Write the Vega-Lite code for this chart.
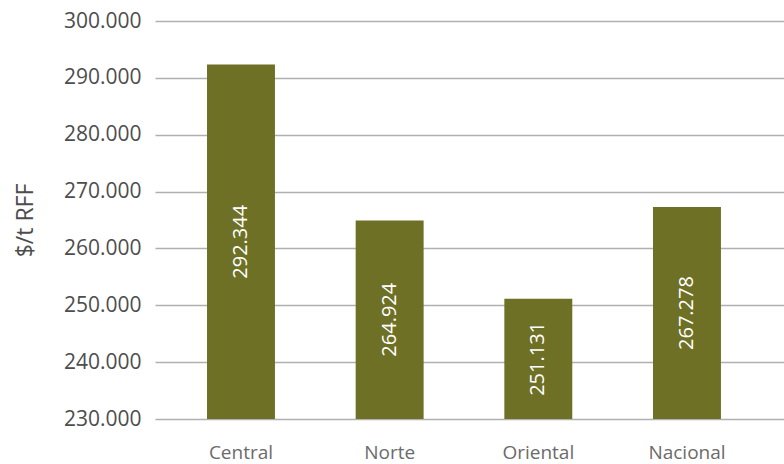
{
  "$schema": "https://vega.github.io/schema/vega-lite/v6.json",
  "width": 629,
  "height": 398,
  "autosize": "none",
  "padding": {"left": 155, "top": 21, "right": 0, "bottom": 45},
  "config": {
    "locale": {"number": {"decimal": ",", "thousands": ".", "grouping": [3], "currency": ["$", ""]}},
    "view": {"stroke": null},
    "font": "Open Sans"
  },
  "data": {
    "values": [
      {"region": "Central", "value": 292344},
      {"region": "Norte", "value": 264924},
      {"region": "Oriental", "value": 251131},
      {"region": "Nacional", "value": 267278}
    ]
  },
  "transform": [{"calculate": "(datum.value + 230000) / 2", "as": "mid"}],
  "encoding": {
    "x": {
      "field": "region",
      "type": "nominal",
      "sort": null,
      "scale": {"paddingInner": 0.543, "paddingOuter": 0.387, "align": 0.452},
      "axis": {
        "title": null,
        "labelAngle": 0,
        "labelFont": "Open Sans",
        "labelFontSize": 19,
        "labelColor": "#6b6b6b",
        "labelPadding": 24,
        "ticks": false,
        "domain": false
      }
    }
  },
  "layer": [
    {
      "mark": {"type": "bar", "color": "#6e7025"},
      "encoding": {
        "y": {
          "field": "value",
          "type": "quantitative",
          "scale": {"domain": [230000, 300000], "nice": false, "zero": false},
          "axis": {
            "title": "$/t RFF",
            "titleFont": "Open Sans",
            "titleFontSize": 23,
            "titleFontWeight": "normal",
            "titleColor": "#4d4d4d",
            "titlePadding": 26,
            "format": ",d",
            "values": [230000, 240000, 250000, 260000, 270000, 280000, 290000, 300000],
            "labelOverlap": false,
            "labelFont": "Open Sans",
            "labelFontSize": 21,
            "labelColor": "#4d4d4d",
            "labelPadding": 14,
            "ticks": false,
            "domain": false,
            "grid": true,
            "gridColor": "#b0b0b0",
            "gridWidth": 1.5
          }
        },
        "y2": {"datum": 230000}
      }
    },
    {
      "mark": {"type": "text", "angle": 270, "color": "white", "font": "Open Sans", "fontSize": 20, "align": "center", "baseline": "middle"},
      "encoding": {
        "y": {"field": "mid", "type": "quantitative"},
        "text": {"field": "value", "type": "quantitative", "format": ",d"}
      }
    }
  ]
}
